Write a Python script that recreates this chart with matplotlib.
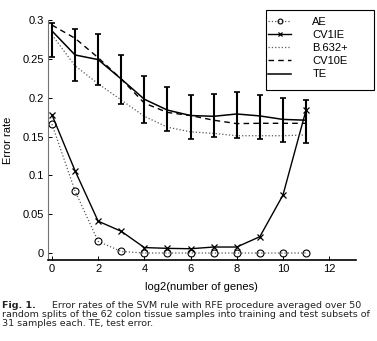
import matplotlib
matplotlib.use("Agg")
import matplotlib.pyplot as plt
import numpy as np
from matplotlib.patches import Rectangle

# log2 of the number of genes kept by RFE
genes = np.arange(12)

ae = [0.166, 0.080, 0.015, 0.002, 0.0, 0.0, 0.0, 0.0, 0.0, 0.0, 0.0, 0.0]
cv1ie = [0.178, 0.106, 0.041, 0.028, 0.007, 0.006, 0.0055, 0.0077, 0.0077, 0.021, 0.0745, 0.184]
b632 = [0.281, 0.241, 0.218, 0.197, 0.176, 0.162, 0.156, 0.154, 0.151, 0.151, 0.151, 0.152]
cv10e = [0.2935, 0.2765, 0.2515, 0.224, 0.193, 0.181, 0.177, 0.171, 0.1666, 0.167, 0.167, 0.167]
te = [0.286, 0.255, 0.249, 0.224, 0.198, 0.184, 0.177, 0.176, 0.179, 0.1765, 0.172, 0.171]
te_low = [0.252, 0.222, 0.2164, 0.1916, 0.168, 0.157, 0.1465, 0.149, 0.1478, 0.1465, 0.143, 0.1422]
te_high = [0.2957, 0.288, 0.282, 0.2554, 0.2284, 0.214, 0.204, 0.2048, 0.2073, 0.204, 0.1998, 0.1972]

xticks = [0, 2, 4, 6, 8, 10, 12]
yticks = [0, 0.05, 0.1, 0.15, 0.2, 0.25, 0.3]
ytick_labels = ["0", "0.05", "0.1", "0.15", "0.2", "0.25", "0.3"]

caption_lines = [
    "Error rates of the SVM rule with RFE procedure averaged over 50",
    "random splits of the 62 colon tissue samples into training and test subsets of",
    "31 samples each. TE, test error.",
]

W, H = 377, 341
fig = plt.figure(figsize=(W / 100, H / 100), dpi=100)
ax = fig.add_axes([48 / W, 1 - 260 / H, (355.7 - 48) / W, (260 - 20) / H])

tick_font = {"family": "Liberation Sans", "size": 8}

l_ae, = ax.plot(genes, ae, linestyle=":", color="0.35", lw=0.9, marker="o",
                mfc="none", mec="black", ms=5, mew=0.8, label="AE")
l_cv1, = ax.plot(genes, cv1ie, "-", color="black", lw=1.0, marker="x",
                 ms=4.5, mew=0.9, label="CV1IE")
l_b632, = ax.plot(genes, b632, linestyle=":", color="0.35", lw=0.9, label="B.632+")
l_cv10, = ax.plot(genes, cv10e, linestyle="--", color="black", lw=1.0,
                  dashes=(4, 3), label="CV10E")
yerr = [np.array(te) - np.array(te_low), np.array(te_high) - np.array(te)]
ax.errorbar(genes, te, yerr=yerr, fmt="none", ecolor="black", elinewidth=1.5,
            capsize=2.2, capthick=1.2)
l_te, = ax.plot(genes, te, "-", color="black", lw=1.1, label="TE")

ax.set_xlim(-0.17, 13.15)
ax.set_ylim(-0.009, 0.3)
ax.set_xticks(xticks)
ax.set_xticklabels([str(t) for t in xticks], fontdict=tick_font)
ax.set_yticks(yticks)
ax.set_yticklabels(ytick_labels, fontdict=tick_font)
ax.tick_params(direction="in", length=3, width=0.7, pad=3)

ax.spines["top"].set_visible(False)
ax.spines["right"].set_visible(False)
ax.spines["left"].set_color("0.45")
ax.spines["left"].set_linewidth(0.8)
ax.spines["bottom"].set_linewidth(1.2)

ax.set_xlabel("log2(number of genes)", fontdict=tick_font)
ax.xaxis.set_label_coords(0.5, -(282.3 - 260) / 240)
ax.set_ylabel("Error rate", fontdict=tick_font)
ax.yaxis.set_label_coords(-(48 - 13) / 307.7, 0.5)

# legend box drawn by hand so it can be wider than its contents
fig.patches.append(Rectangle((266 / W, 1 - 90 / H), (374 - 266) / W, 80 / H,
                             transform=fig.transFigure, fill=False,
                             edgecolor="black", lw=0.8))
fig.legend(handles=[l_ae, l_cv1, l_b632, l_cv10, l_te], loc="upper left",
           bbox_to_anchor=(268 / W, 1 - 17 / H), frameon=False,
           prop={"family": "Liberation Sans", "size": 8},
           handlelength=2.1, handletextpad=1.9, labelspacing=0.28,
           borderpad=0, borderaxespad=0, markerscale=0.7)

cap_font = "DejaVu Sans"
cap_size = 6.8
fig.text(2.5 / W, 1 - 305.0 / H, "Fig. 1.", fontsize=cap_size, family=cap_font,
         weight="bold", color="#222222", va="center")
fig.text(52.3 / W, 1 - 305.0 / H, caption_lines[0], fontsize=cap_size,
         family=cap_font, color="#222222", va="center")
fig.text(2.5 / W, 1 - 314.3 / H, caption_lines[1], fontsize=cap_size,
         family=cap_font, color="#222222", va="center")
fig.text(2.5 / W, 1 - 323.6 / H, caption_lines[2], fontsize=cap_size,
         family=cap_font, color="#222222", va="center")

fig.savefig("out.png", dpi=100)
